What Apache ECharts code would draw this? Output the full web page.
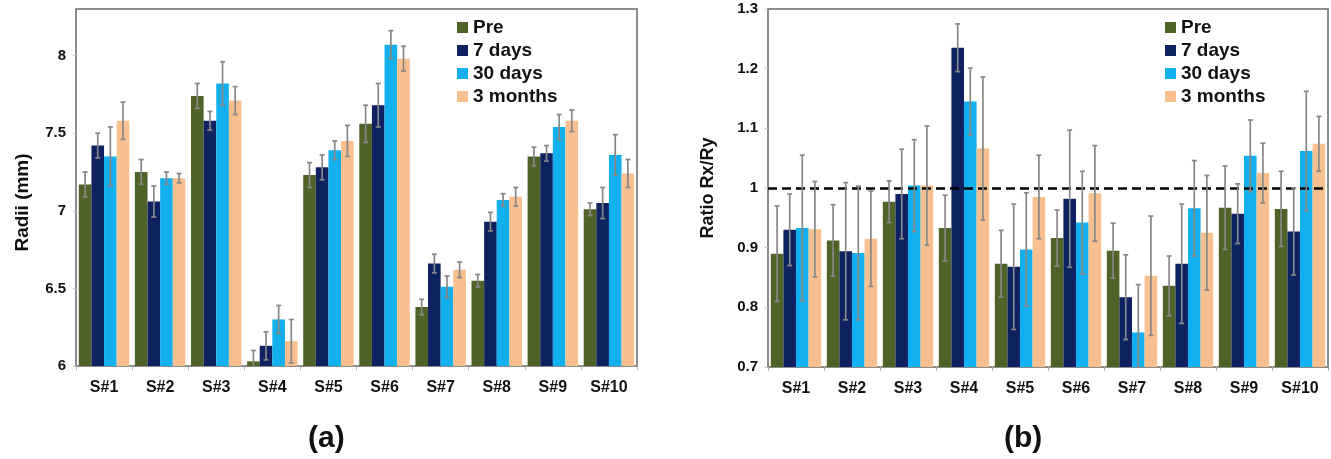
<!DOCTYPE html>
<html>
<head>
<meta charset="utf-8">
<script src="https://cdn.jsdelivr.net/npm/echarts@6/dist/echarts.min.js"></script>
<style>
  html, body { margin: 0; padding: 0; background: #fff; }
  #chart { width: 1331px; height: 459px; }
</style>
</head>
<body>
<div id="chart"></div>
<script>
const samples = ['S#1', 'S#2', 'S#3', 'S#4', 'S#5', 'S#6', 'S#7', 'S#8', 'S#9', 'S#10']
const groups = ['Pre', '7 days', '30 days', '3 months']
const colors = ['#4f6228', '#0e2262', '#12b0ee', '#f9c08f']

// (a) radii in mm, with error
const radiiPre = [7.17, 7.25, 7.74, 6.03, 7.23, 7.56, 6.38, 6.55, 7.35, 7.01]
const radii7d = [7.42, 7.06, 7.58, 6.13, 7.28, 7.68, 6.66, 6.93, 7.37, 7.05]
const radii30d = [7.35, 7.21, 7.82, 6.30, 7.39, 8.07, 6.51, 7.07, 7.54, 7.36]
const radii3m = [7.58, 7.21, 7.71, 6.16, 7.45, 7.98, 6.62, 7.09, 7.58, 7.24]
const radiiErrPre = [0.08, 0.08, 0.08, 0.07, 0.08, 0.12, 0.05, 0.04, 0.06, 0.04]
const radiiErr7d = [0.08, 0.10, 0.06, 0.09, 0.08, 0.14, 0.06, 0.06, 0.05, 0.10]
const radiiErr30d = [0.19, 0.04, 0.14, 0.09, 0.06, 0.09, 0.07, 0.04, 0.08, 0.13]
const radiiErr3m = [0.12, 0.03, 0.09, 0.14, 0.10, 0.08, 0.05, 0.06, 0.07, 0.09]

// (b) ratio Rx/Ry, with error
const ratioPre = [0.890, 0.912, 0.977, 0.933, 0.873, 0.916, 0.895, 0.836, 0.967, 0.965]
const ratio7d = [0.930, 0.894, 0.990, 1.235, 0.868, 0.982, 0.817, 0.873, 0.957, 0.927]
const ratio30d = [0.933, 0.891, 1.004, 1.145, 0.897, 0.942, 0.758, 0.966, 1.054, 1.062]
const ratio3m = [0.931, 0.915, 1.004, 1.066, 0.985, 0.991, 0.853, 0.925, 1.025, 1.074]
const ratioErrPre = [0.080, 0.060, 0.035, 0.055, 0.056, 0.047, 0.046, 0.050, 0.070, 0.063]
const ratioErr7d = [0.060, 0.115, 0.075, 0.040, 0.105, 0.115, 0.071, 0.100, 0.050, 0.073]
const ratioErr30d = [0.122, 0.112, 0.077, 0.056, 0.095, 0.086, 0.080, 0.080, 0.060, 0.100]
const ratioErr3m = [0.080, 0.080, 0.100, 0.120, 0.070, 0.080, 0.100, 0.096, 0.050, 0.046]

const FONT = 'Liberation Sans, Arial, sans-serif'
const GAP = 0.1
const axisGray = '#8c8c8c'

const chart = echarts.init(document.getElementById('chart'))

function barSeries (name, idx, data, axis) {
  return {
    name: name,
    type: 'bar',
    xAxisIndex: axis,
    yAxisIndex: axis,
    data: data,
    barGap: 0,
    barCategoryGap: (GAP * 100) + '%',
    itemStyle: { color: colors[idx] },
    z: 2
  }
}

// error bars drawn on top of the grouped bars
function errSeries (idx, vals, errs, axis) {
  return {
    type: 'custom',
    xAxisIndex: axis,
    yAxisIndex: axis,
    clip: true,
    z: 5,
    silent: true,
    data: vals.map((v, i) => [i, v, errs[i]]),
    renderItem: function (params, api) {
      const cat = api.value(0)
      const v = api.value(1)
      const e = api.value(2)
      const band = api.size([1, 0])[0]
      const groupW = band * (1 - GAP)
      const barW = groupW / 4
      const x = api.coord([cat, v])[0] - groupW / 2 + barW * (idx + 0.5)
      const hi = api.coord([cat, v + e])[1]
      const lo = api.coord([cat, v - e])[1]
      const style = { stroke: '#878787', lineWidth: 1.7 }
      return {
        type: 'group',
        children: [
          { type: 'line', shape: { x1: x, y1: hi, x2: x, y2: lo }, style: style },
          { type: 'line', shape: { x1: x - 2.5, y1: hi, x2: x + 2.5, y2: hi }, style: style },
          { type: 'line', shape: { x1: x - 2.5, y1: lo, x2: x + 2.5, y2: lo }, style: style }
        ]
      }
    }
  }
}

function xAxisFor (gridIndex) {
  return {
    type: 'category',
    gridIndex: gridIndex,
    data: samples,
    axisLine: { lineStyle: { color: axisGray, width: 2 } },
    axisTick: { show: true, length: 4, lineStyle: { color: '#b0b0b0' } },
    axisLabel: { color: '#111', fontSize: 16, fontWeight: 'bold', fontFamily: FONT, margin: 14 }
  }
}

function legendAt (left) {
  return {
    data: groups,
    orient: 'vertical',
    left: left,
    top: 18,
    padding: 0,
    itemWidth: 11,
    itemHeight: 11,
    itemGap: 4,
    icon: 'rect',
    selectedMode: false,
    textStyle: { color: '#111', fontSize: 19, fontWeight: 'bold', fontFamily: FONT }
  }
}

const option = {
  animation: false,
  backgroundColor: '#fff',
  textStyle: { fontFamily: FONT },
  grid: [
    { left: 76, top: 9, width: 561, height: 357, show: true, borderColor: axisGray, borderWidth: 2 },
    { left: 768, top: 9, width: 560, height: 358, show: true, borderColor: axisGray, borderWidth: 2 }
  ],
  legend: [legendAt(457), legendAt(1165)],
  xAxis: [xAxisFor(0), xAxisFor(1)],
  yAxis: [
    {
      type: 'value',
      gridIndex: 0,
      min: 6,
      max: 8.3,
      interval: 0.5,
      name: 'Radii (mm)',
      nameLocation: 'middle',
      nameGap: 44,
      nameTextStyle: { color: '#111', fontSize: 19, fontWeight: 'bold', fontFamily: FONT, padding: [0, 30, 0, 0] },
      splitLine: { show: false },
      axisLine: { show: true, lineStyle: { color: axisGray, width: 2 } },
      axisTick: { show: true, length: 3, lineStyle: { color: '#c0c0c0' } },
      axisLabel: { color: '#111', fontSize: 15, fontWeight: 'bold', fontFamily: FONT, margin: 10, showMaxLabel: false }
    },
    {
      type: 'value',
      gridIndex: 1,
      min: 0.7,
      max: 1.3,
      interval: 0.1,
      name: 'Ratio Rx/Ry',
      nameLocation: 'middle',
      nameGap: 51,
      nameTextStyle: { color: '#111', fontSize: 18, fontWeight: 'bold', fontFamily: FONT },
      splitLine: { show: false },
      axisLine: { show: true, lineStyle: { color: axisGray, width: 2 } },
      axisTick: { show: true, length: 3, lineStyle: { color: '#c0c0c0' } },
      axisLabel: { color: '#111', fontSize: 15, fontWeight: 'bold', fontFamily: FONT, margin: 10 }
    }
  ],
  graphic: [
    { type: 'text', left: 328 - 20, top: 424, style: { text: '(a)', fill: '#111', font: 'bold 30px ' + FONT } },
    { type: 'text', left: 1024 - 20, top: 424, style: { text: '(b)', fill: '#111', font: 'bold 30px ' + FONT } }
  ],
  series: [
    barSeries('Pre', 0, radiiPre, 0),
    barSeries('7 days', 1, radii7d, 0),
    barSeries('30 days', 2, radii30d, 0),
    barSeries('3 months', 3, radii3m, 0),
    errSeries(0, radiiPre, radiiErrPre, 0),
    errSeries(1, radii7d, radiiErr7d, 0),
    errSeries(2, radii30d, radiiErr30d, 0),
    errSeries(3, radii3m, radiiErr3m, 0),
    Object.assign(barSeries('Pre', 0, ratioPre, 1), {
      markLine: {
        silent: true,
        symbol: 'none',
        label: { show: false },
        lineStyle: { color: '#000', type: [9, 5], width: 2.5 },
        data: [{ yAxis: 1 }]
      }
    }),
    barSeries('7 days', 1, ratio7d, 1),
    barSeries('30 days', 2, ratio30d, 1),
    barSeries('3 months', 3, ratio3m, 1),
    errSeries(0, ratioPre, ratioErrPre, 1),
    errSeries(1, ratio7d, ratioErr7d, 1),
    errSeries(2, ratio30d, ratioErr30d, 1),
    errSeries(3, ratio3m, ratioErr3m, 1)
  ]
}

chart.setOption(option)
</script>
</body>
</html>
